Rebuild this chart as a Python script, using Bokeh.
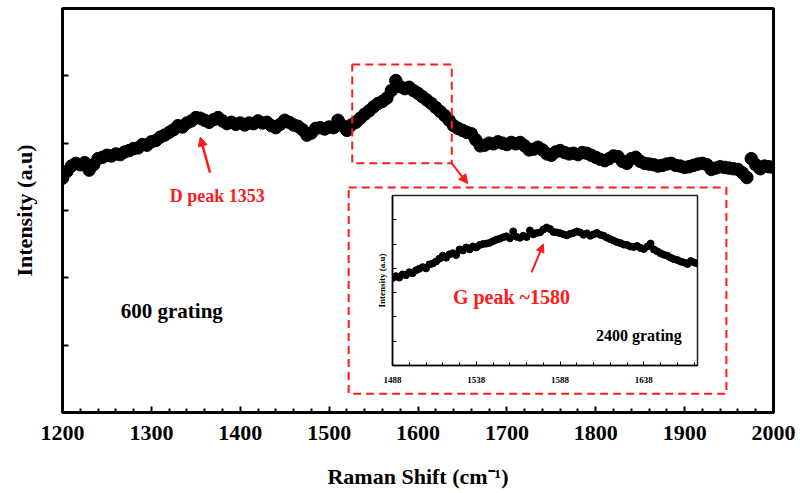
from bokeh.plotting import figure
from bokeh.models import FixedTicker, Label, Arrow, NormalHead, BoxAnnotation, Range1d
from bokeh.layouts import column
from bokeh.embed import file_html
from bokeh.resources import INLINE

# ---------------- data ----------------
main_x = list(range(1200, 2001, 5))
main_y = [
    348, 358, 366, 370, 368, 371, 360, 368, 377, 379,   # 1200-1245
    382, 381, 384, 383, 387, 389, 392, 393, 398, 397,   # 1250-1295
    402, 404, 409, 412, 416, 420, 426, 424, 430, 433,   # 1300-1345
    438, 437, 434, 431, 435, 438, 433, 429, 431, 428,   # 1350-1395
    430, 427, 430, 429, 433, 430, 431, 426, 423, 428,   # 1400-1445
    434, 431, 427, 425, 420, 412, 415, 422, 423, 421,   # 1450-1495
    424, 423, 434, 426, 419, 427, 431, 437, 443, 448,   # 1500-1545
    454, 459, 462, 467, 478, 493, 484, 481, 483, 478,   # 1550-1595
    474, 469, 464, 459, 453, 447, 441, 434, 426, 422,   # 1600-1645
    419, 416, 414, 405, 396, 397, 400, 399, 402, 400,   # 1650-1695
    398, 401, 399, 401, 396, 390, 391, 394, 390, 384,   # 1700-1745
    382, 387, 389, 386, 384, 385, 383, 386, 385, 382,   # 1750-1795
    379, 376, 374, 377, 381, 380, 373, 370, 377, 379,   # 1800-1845
    373, 370, 369, 368, 366, 367, 369, 370, 367, 366,   # 1850-1895
    364, 365, 367, 369, 370, 368, 361, 363, 365, 364,   # 1900-1945
    363, 362, 361, 356, 349, 377, 368, 362, 366, 365,   # 1950-1995
    364,                                                # 2000
]

inset_x = list(range(1488, 1671, 2))
inset_y = [
    360, 368, 362, 375, 372, 384, 380, 392, 398, 405,   # 1488-1506
    400, 416, 420, 428, 440, 452, 444, 458, 462, 455,   # 1508-1526
    478, 474, 486, 478, 490, 486, 496, 500, 502, 505,   # 1528-1546
    512, 518, 522, 528, 532, 524, 552, 530, 526, 534,   # 1548-1566
    529, 556, 540, 546, 548, 560, 568, 562, 550, 548,   # 1568-1586
    545, 540, 536, 542, 546, 552, 548, 538, 544, 534,   # 1588-1606
    540, 546, 538, 534, 526, 520, 514, 508, 504, 498,   # 1608-1626
    496, 490, 488, 492, 484, 480, 490, 502, 478, 470,   # 1628-1646
    462, 456, 452, 444, 438, 434, 428, 424, 418, 430,   # 1648-1666
    424, 420,                                           # 1668-1670
]

main_xticks = [1200, 1300, 1400, 1500, 1600, 1700, 1800, 1900, 2000]
main_xminor = [v for v in range(1220, 2000, 20) if v % 100 != 0]
main_yticks = [100, 200, 300, 400, 500]
inset_xticks = [1488, 1538, 1588, 1638]
inset_xminor = [v for v in range(1498, 1670, 10) if v not in inset_xticks]
inset_yticks = [100, 200, 300, 400, 500, 600]

zoom_box = dict(left=1526, right=1638, bottom=370, top=517)
inset_box = dict(left=1522, right=1947, bottom=28, top=334)

SERIF = "Liberation Serif"
RED = "#ff1a1a"

assert len(main_x) == len(main_y)
assert len(inset_x) == len(inset_y)

# ---------------- main figure ----------------
p = figure(width=800, height=493, x_range=Range1d(1200, 2000), y_range=Range1d(0, 600),
           output_backend="svg", toolbar_location=None,
           min_border_left=62, min_border_right=27, min_border_top=8, min_border_bottom=81)
p.grid.visible = False
p.background_fill_color = "white"
p.border_fill_color = "white"
p.outline_line_color = "black"
p.outline_line_width = 3
p.outline_line_alpha = 1

xa = p.xaxis[0]
xa.ticker = FixedTicker(ticks=main_xticks, minor_ticks=main_xminor)
xa.axis_line_width = 3
xa.major_tick_in = 6
xa.major_tick_out = 0
xa.minor_tick_in = 4
xa.minor_tick_out = 0
xa.major_tick_line_width = 2
xa.minor_tick_line_width = 2
xa.major_label_text_font = SERIF
xa.major_label_text_font_style = "bold"
xa.major_label_text_font_size = "22px"
xa.major_label_text_color = "black"
xa.major_label_standoff = 13
xa.axis_label = "Raman Shift (cm⁻¹)"
xa.axis_label_text_font = SERIF
xa.axis_label_text_font_style = "bold"
xa.axis_label_text_font_size = "22px"
xa.axis_label_text_color = "black"
xa.axis_label_standoff = 21

ya = p.yaxis[0]
ya.ticker = FixedTicker(ticks=main_yticks, minor_ticks=[])
ya.axis_line_width = 3
ya.major_tick_in = 6
ya.major_tick_out = 0
ya.major_tick_line_width = 2
ya.major_label_overrides = {t: "" for t in main_yticks}
ya.major_label_standoff = 0
ya.axis_label = "Intensity (a.u)"
ya.axis_label_text_font = SERIF
ya.axis_label_text_font_style = "bold"
ya.axis_label_text_font_size = "22px"
ya.axis_label_text_color = "black"
ya.axis_label_standoff = 26

p.scatter(main_x, main_y, size=12.5, color="black")

p.add_layout(BoxAnnotation(**zoom_box, fill_alpha=0, line_color=RED, line_alpha=1,
                           line_width=2, line_dash="8 5"))
p.add_layout(BoxAnnotation(**inset_box, fill_alpha=0, line_color=RED, line_alpha=1,
                           line_width=2, line_dash="8 5"))
p.add_layout(Arrow(x_start=1638, y_start=370, x_end=1656, y_end=340,
                   line_color=RED, line_width=2,
                   end=NormalHead(size=9, fill_color=RED, line_color=RED)))
p.add_layout(Arrow(x_start=1366, y_start=356, x_end=1355, y_end=409,
                   line_color=RED, line_width=2.5,
                   end=NormalHead(size=9, fill_color=RED, line_color=RED)))
p.add_layout(Label(x=1374, y=322, text="D peak 1353", text_align="center",
                   text_baseline="middle", text_font=SERIF, text_font_style="bold",
                   text_font_size="18px", text_color=RED))
p.add_layout(Label(x=1323, y=151, text="600 grating", text_align="center",
                   text_baseline="middle", text_font=SERIF, text_font_style="bold",
                   text_font_size="21px", text_color="black"))

# ---------------- inset figure ----------------
# borders match the main figure's (the column aligns them); frame = 305 x 170 px
ins = figure(width=394, height=200, x_range=Range1d(1488, 1670), y_range=Range1d(0, 700),
             output_backend="svg", toolbar_location=None,
             min_border_left=62, min_border_right=27, min_border_top=5, min_border_bottom=25)
ins.styles = {"position": "absolute", "left": "330px", "top": "190px",
              "width": "394px", "height": "200px"}
ins.grid.visible = False
ins.background_fill_alpha = 0
ins.border_fill_alpha = 0
ins.outline_line_color = "#222222"
ins.outline_line_width = 1.5

ixa = ins.xaxis[0]
ixa.ticker = FixedTicker(ticks=inset_xticks, minor_ticks=inset_xminor)
ixa.axis_line_width = 1.5
ixa.major_tick_in = 4
ixa.major_tick_out = 0
ixa.minor_tick_in = 3
ixa.minor_tick_out = 0
ixa.major_label_text_font = SERIF
ixa.major_label_text_font_style = "bold"
ixa.major_label_text_font_size = "9px"
ixa.major_label_text_color = "black"
ixa.major_label_standoff = 11

iya = ins.yaxis[0]
iya.ticker = FixedTicker(ticks=inset_yticks, minor_ticks=[])
iya.axis_line_width = 1.5
iya.major_tick_in = 4
iya.major_tick_out = 0
iya.major_label_overrides = {t: "" for t in inset_yticks}
iya.major_label_standoff = 0
iya.axis_label = "Intensity (a.u)"
iya.axis_label_text_font = SERIF
iya.axis_label_text_font_style = "bold"
iya.axis_label_text_font_size = "9px"
iya.axis_label_text_color = "black"
iya.axis_label_standoff = 6

ins.scatter(inset_x, inset_y, size=7, color="black")

ins.add_layout(Arrow(x_start=1571, y_start=383, x_end=1578, y_end=500,
                     line_color=RED, line_width=2,
                     end=NormalHead(size=8, fill_color=RED, line_color=RED)))
ins.add_layout(Label(x=1559, y=284, text="G peak ~1580", text_align="center",
                     text_baseline="middle", text_font=SERIF, text_font_style="bold",
                     text_font_size="20px", text_color=RED))
ins.add_layout(Label(x=1635, y=124, text="2400 grating", text_align="center",
                     text_baseline="middle", text_font=SERIF, text_font_style="bold",
                     text_font_size="16px", text_color="black"))

root = column(p, ins)
open("out.html", "w").write(file_html(root, INLINE))
